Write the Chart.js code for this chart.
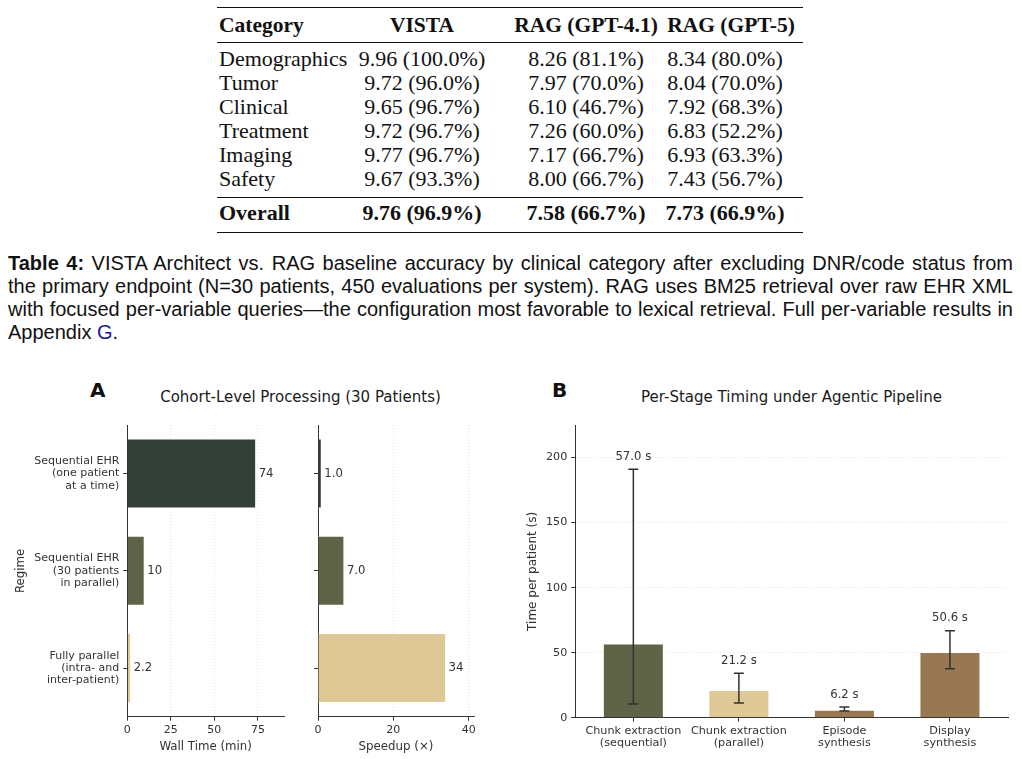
<!DOCTYPE html>
<html>
<head>
<meta charset="utf-8">
<script src="https://cdn.jsdelivr.net/npm/chart.js@4.4.1/dist/chart.umd.min.js"></script>
<style>
  html, body { margin: 0; padding: 0; background: #fff; }
  #page { position: relative; width: 1022px; height: 759px; overflow: hidden; background: #fff; }
  .rule { position: absolute; left: 217px; width: 586px; background: #111; }
  .cell { position: absolute; white-space: nowrap; font-family: "Liberation Serif", serif; font-size: 22px; line-height: 24px; color: #111; }
  .cell.c { width: 200px; text-align: center; }
  .cell.b { font-weight: bold; }
  .cell.h { font-size: 21.5px; }
  .cap { position: absolute; left: 8px; font-family: "Liberation Sans", Arial, sans-serif; font-size: 20px; line-height: 23px; color: #111; white-space: nowrap; }
  .panel { position: absolute; font-family: "DejaVu Sans", sans-serif; font-weight: bold; font-size: 20px; line-height: 24px; color: #111; }
  .ttl { position: absolute; width: 400px; text-align: center; font-family: "DejaVu Sans", sans-serif; font-size: 15px; line-height: 18px; color: #1a1a1a; }
  canvas { position: absolute; }
</style>
</head>
<body>
<div id="page">
  <div id="table"></div>

  <div class="cap fill" style="top:252px"><b>Table 4:</b> VISTA Architect vs. RAG baseline accuracy by clinical category after excluding DNR/code status from</div>
  <div class="cap fill" style="top:275px">the primary endpoint (N=30 patients, 450 evaluations per system). RAG uses BM25 retrieval over raw EHR XML</div>
  <div class="cap fill" style="top:298px">with focused per-variable queries—the configuration most favorable to lexical retrieval. Full per-variable results in</div>
  <div class="cap" style="top:321px">Appendix <span style="color:#1a1a99">G</span>.</div>

  <div class="panel" style="left:90px;top:378px">A</div>
  <div class="panel" style="left:552px;top:378px">B</div>
  <div class="ttl" style="left:100.5px;top:388px">Cohort-Level Processing (30 Patients)</div>
  <div class="ttl" style="left:591.5px;top:388px">Per-Stage Timing under Agentic Pipeline</div>

  <canvas id="wallChart" width="300" height="389" style="left:0;top:370px"></canvas>
  <canvas id="speedChart" width="200" height="389" style="left:300px;top:370px"></canvas>
  <canvas id="stageChart" width="512" height="389" style="left:510px;top:370px"></canvas>
</div>

<script>
/* ── Table 4 data ── */
const tableHeader = ['Category', 'VISTA', 'RAG (GPT-4.1)', 'RAG (GPT-5)'];
const tableCategories = ['Demographics', 'Tumor', 'Clinical', 'Treatment', 'Imaging', 'Safety'];
const vistaScores = ['9.96 (100.0%)', '9.72 (96.0%)', '9.65 (96.7%)', '9.72 (96.7%)', '9.77 (96.7%)', '9.67 (93.3%)'];
const ragGpt41Scores = ['8.26 (81.1%)', '7.97 (70.0%)', '6.10 (46.7%)', '7.26 (60.0%)', '7.17 (66.7%)', '8.00 (66.7%)'];
const ragGpt5Scores = ['8.34 (80.0%)', '8.04 (70.0%)', '7.92 (68.3%)', '6.83 (52.2%)', '6.93 (63.3%)', '7.43 (56.7%)'];
const overallRow = ['Overall', '9.76 (96.9%)', '7.58 (66.7%)', '7.73 (66.9%)'];

/* ── Panel A data ── */
const regimeLabels = [
  ['Sequential EHR', '(one patient', 'at a time)'],
  ['Sequential EHR', '(30 patients', 'in parallel)'],
  ['Fully parallel', '(intra- and', 'inter-patient)']
];
const wallTime = [74, 10, 2.2];
const wallTimeText = ['74', '10', '2.2'];
const speedup = [1.0, 7.0, 34];
const speedupText = ['1.0', '7.0', '34'];
const wallTicks = [0, 25, 50, 75];
const speedTicks = [0, 20, 40];

/* ── Panel B data ── */
const stageLabels = [
  ['Chunk extraction', '(sequential)'],
  ['Chunk extraction', '(parallel)'],
  ['Episode', 'synthesis'],
  ['Display', 'synthesis']
];
const stageTime = [57.0, 21.2, 6.2, 50.6];
const stageErrLow = [10.5, 11.3, 5.1, 37.7];
const stageErrHigh = [191, 34.2, 8.2, 66.9];
const timeTicks = [0, 50, 100, 150, 200];

/* ── Colours ── */
const regimeColors = ['#334037', '#5f6347', '#ddc896'];
const stageColors = ['#5f6347', '#ddc896', '#977853', '#977853'];
const INK = '#333333';
const GRID = '#dcdcdc';
const FONT = "'DejaVu Sans', sans-serif";

/* ── Build the table ── */
function buildTable() {
  const host = document.getElementById('table');
  const headX = [219, 422, 586, 731];
  const colX = [219, 422, 586, 725];
  const addCell = (text, x, cy, cls) => {
    const d = document.createElement('div');
    d.className = 'cell ' + cls;
    d.textContent = text;
    d.style.top = (cy - 12) + 'px';
    d.style.left = (cls.includes('c') ? x - 100 : x) + 'px';
    host.appendChild(d);
  };
  const addRule = (y, h) => {
    const r = document.createElement('div');
    r.className = 'rule';
    r.style.top = y + 'px';
    r.style.height = h + 'px';
    host.appendChild(r);
  };
  addRule(6.5, 1.8);
  addRule(42, 1);
  addRule(197, 1);
  addRule(231.5, 1.8);
  tableHeader.forEach((t, c) => addCell(t, headX[c], 25, 'b h' + (c ? ' c' : '')));
  tableCategories.forEach((cat, i) => {
    const cy = 59 + i * 24;
    addCell(cat, colX[0], cy, '');
    addCell(vistaScores[i], colX[1], cy, 'c');
    addCell(ragGpt41Scores[i], colX[2], cy, 'c');
    addCell(ragGpt5Scores[i], colX[3], cy, 'c');
  });
  overallRow.forEach((t, c) => addCell(t, colX[c], 213, 'b' + (c ? ' c' : '')));
}
buildTable();

// stretch the word gaps so each full caption line spans the text block
document.querySelectorAll('.cap.fill').forEach(el => {
  const gaps = (el.textContent.match(/ /g) || []).length;
  const extra = 1005 - el.getBoundingClientRect().width;
  el.style.wordSpacing = (extra / gaps) + 'px';
});

/* ── Plugins ── */
const barValueLabels = {
  id: 'barValueLabels',
  afterDatasetsDraw(chart, args, opts) {
    const ctx = chart.ctx;
    const meta = chart.getDatasetMeta(0);
    ctx.save();
    ctx.font = '11.7px ' + FONT;
    ctx.fillStyle = INK;
    ctx.textAlign = 'left';
    ctx.textBaseline = 'middle';
    meta.data.forEach((bar, i) => {
      ctx.fillText(opts.texts[i], bar.x + 2.5, bar.y);
    });
    ctx.restore();
  }
};

const errorBars = {
  id: 'errorBars',
  afterDatasetsDraw(chart) {
    const ctx = chart.ctx;
    const y = chart.scales.y;
    const meta = chart.getDatasetMeta(0);
    ctx.save();
    ctx.strokeStyle = INK;
    ctx.lineWidth = 1.5;
    ctx.fillStyle = INK;
    ctx.font = '11.7px ' + FONT;
    ctx.textAlign = 'center';
    ctx.textBaseline = 'middle';
    meta.data.forEach((bar, i) => {
      const x = bar.x;
      const lo = y.getPixelForValue(stageErrLow[i]);
      const hi = y.getPixelForValue(stageErrHigh[i]);
      ctx.beginPath();
      ctx.moveTo(x, lo); ctx.lineTo(x, hi);
      ctx.moveTo(x - 5, lo); ctx.lineTo(x + 5, lo);
      ctx.moveTo(x - 5, hi); ctx.lineTo(x + 5, hi);
      ctx.stroke();
      ctx.fillText(stageTime[i].toFixed(1) + ' s', x, hi - 12.5);
    });
    ctx.restore();
  }
};

/* ── Shared axis pieces ── */
function valueAxis(maxVal, tickList, title, fitH) {
  return {
    type: 'linear',
    min: 0,
    max: maxVal,
    afterBuildTicks: s => { s.ticks = tickList.map(v => ({ value: v })); },
    afterFit: s => { s.height = fitH; },
    grid: { color: GRID, lineWidth: 0.8, drawTicks: true, tickLength: 4, tickColor: INK, tickWidth: 1 },
    border: { display: true, color: INK, width: 1, dash: [1, 2] },
    ticks: { color: INK, font: { family: FONT, size: 11 }, padding: 3, maxRotation: 0 },
    title: { display: true, text: title, color: INK, font: { family: FONT, size: 11.8 }, padding: { top: 0, bottom: 5 } }
  };
}

function regimeAxis(width, showLabels) {
  return {
    type: 'category',
    offset: true,
    afterFit: s => { s.width = width; },
    grid: { offset: false, drawOnChartArea: false, drawTicks: true, tickLength: 4, tickColor: INK, tickWidth: 1 },
    border: { display: true, color: INK, width: 1 },
    ticks: {
      color: INK,
      font: { family: FONT, size: 11, lineHeight: 1.12 },
      padding: 4,
      callback: showLabels ? (v, i) => regimeLabels[i] : () => ''
    },
    title: showLabels
      ? { display: true, text: 'Regime', color: INK, font: { family: FONT, size: 11.8 }, padding: { top: 14 } }
      : { display: false }
  };
}

function regimeChart(canvasId, values, texts, maxVal, tickList, title, yWidth, pad, showLabels) {
  return new Chart(document.getElementById(canvasId), {
    type: 'bar',
    data: {
      labels: regimeLabels.map(l => l.join(' ')),
      datasets: [{
        data: values,
        backgroundColor: regimeColors,
        borderColor: 'rgba(255,255,255,0.6)',
        borderWidth: 1,
        barPercentage: 0.72,
        categoryPercentage: 1
      }]
    },
    options: {
      indexAxis: 'y',
      responsive: false,
      animation: false,
      layout: { padding: pad },
      plugins: { legend: { display: false }, tooltip: { enabled: false }, barValueLabels: { texts } },
      scales: {
        x: valueAxis(maxVal, tickList, title, 42.3),
        y: regimeAxis(yWidth, showLabels)
      }
    },
    plugins: [barValueLabels]
  });
}

/* ── Panel A ── */
regimeChart('wallChart', wallTime, wallTimeText, 90, wallTicks, 'Wall Time (min)', 127.3,
  { top: 55, right: 16, bottom: 0, left: 0 }, true);
regimeChart('speedChart', speedup, speedupText, 41.4, speedTicks, 'Speedup (×)', 18,
  { top: 55, right: 26, bottom: 0, left: 0 }, false);

/* ── Panel B ── */
new Chart(document.getElementById('stageChart'), {
  type: 'bar',
  data: {
    datasets: [{
      data: stageTime.map((v, i) => ({ x: i, y: v })),
      backgroundColor: stageColors,
      borderColor: 'rgba(255,255,255,0.6)',
      borderWidth: 1,
      barPercentage: 0.578,
      categoryPercentage: 1
    }]
  },
  options: {
    responsive: false,
    animation: false,
    layout: { padding: { top: 55, right: 14, bottom: 0, left: 0 } },
    plugins: { legend: { display: false }, tooltip: { enabled: false } },
    scales: {
      x: {
        type: 'linear',
        offset: false,
        min: -0.55,
        max: 3.55,
        afterBuildTicks: s => { s.ticks = stageLabels.map((l, i) => ({ value: i })); },
        afterFit: s => { s.height = 41.3; },
        grid: { offset: false, drawOnChartArea: false, drawTicks: true, tickLength: 4, tickColor: INK, tickWidth: 1 },
        border: { display: true, color: INK, width: 1 },
        ticks: {
          color: INK,
          font: { family: FONT, size: 11.2, lineHeight: 1.1 },
          padding: 3,
          maxRotation: 0,
          autoSkip: false,
          callback: v => stageLabels[v]
        }
      },
      y: {
        type: 'linear',
        min: 0,
        max: 225,
        afterBuildTicks: s => { s.ticks = timeTicks.map(v => ({ value: v })); },
        afterFit: s => { s.width = 65.3; },
        grid: { color: GRID, lineWidth: 0.8, drawTicks: true, tickLength: 4, tickColor: INK, tickWidth: 1 },
        border: { display: true, color: INK, width: 1, dash: [1, 2] },
        ticks: { color: INK, font: { family: FONT, size: 11.2 }, padding: 4 },
        title: { display: true, text: 'Time per patient (s)', color: INK, font: { family: FONT, size: 12 }, padding: { top: 16 } }
      }
    }
  },
  plugins: [errorBars]
});
</script>
</body>
</html>
